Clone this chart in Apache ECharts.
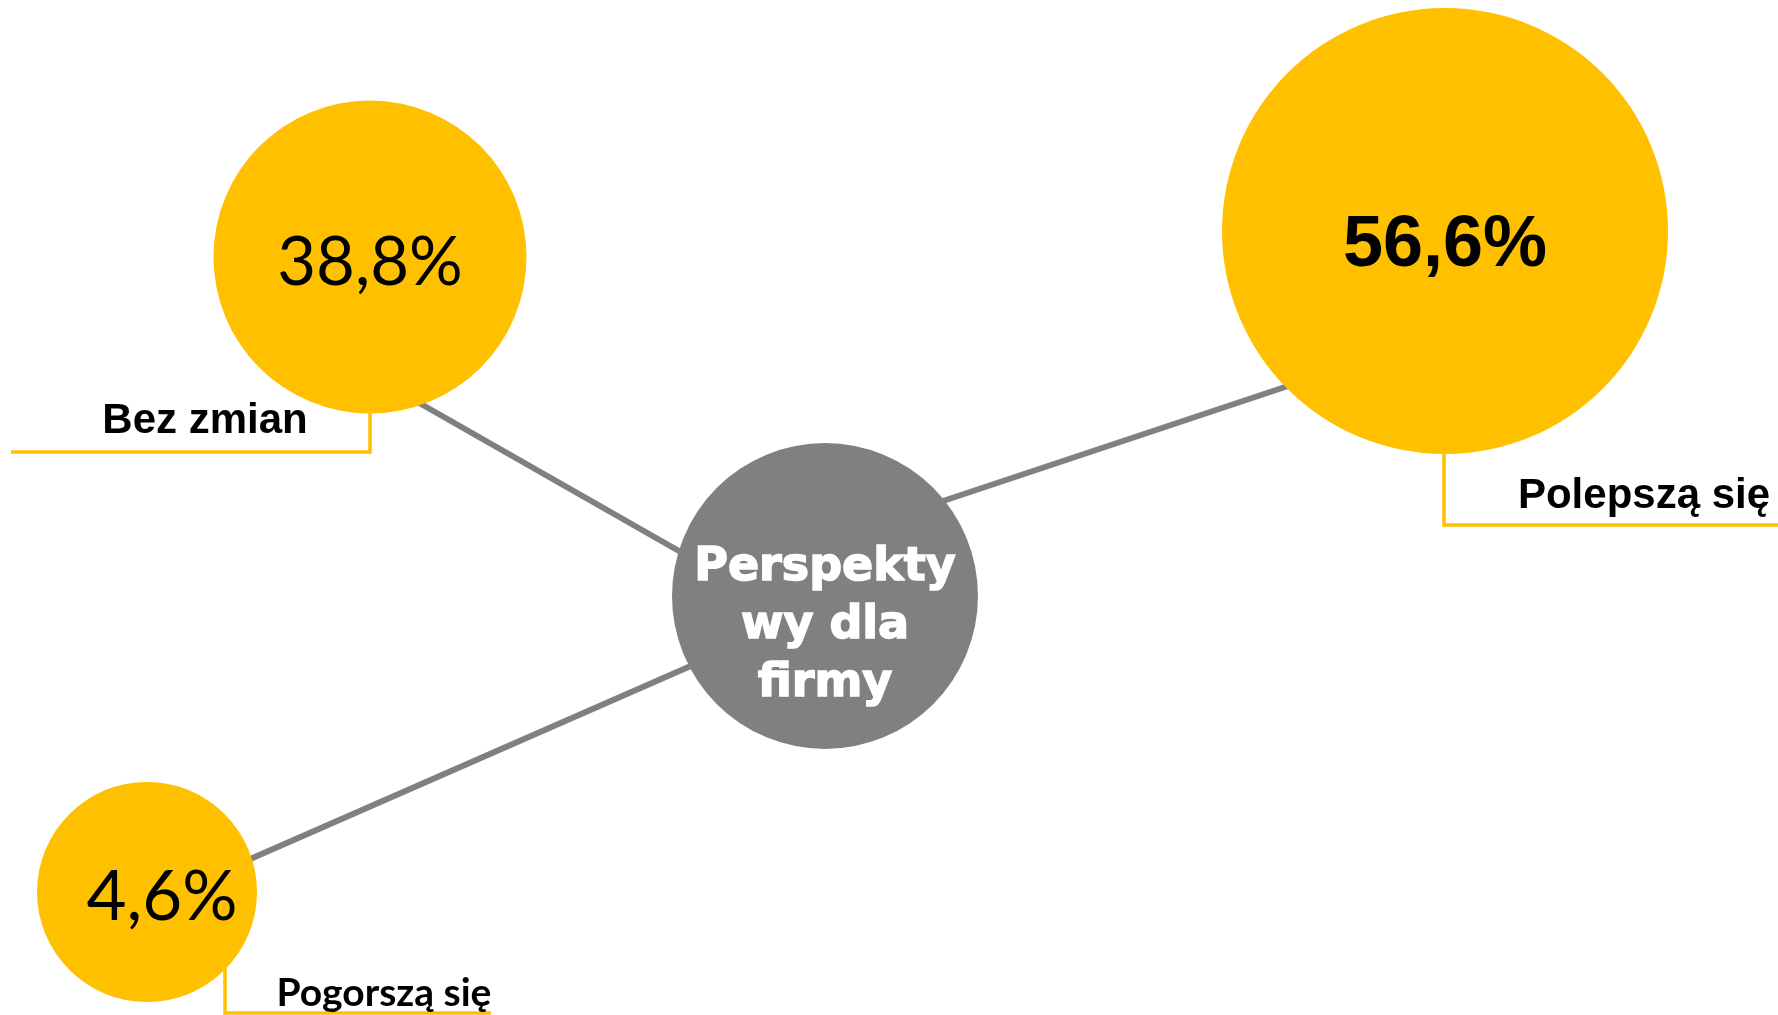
<!DOCTYPE html>
<html>
<head>
<meta charset="utf-8">
<script src="https://cdn.jsdelivr.net/npm/echarts@6/dist/echarts.min.js"></script>
<style>
	html, body { margin: 0; padding: 0; background: #fff; }
	#chart { width: 1778px; height: 1015px; }
</style>
</head>
<body>
<div id="chart"></div>
<script>
// dane
var centerTitle = 'Perspekty\nwy dla\nfirmy';
var categories = ['Polepszą się', 'Bez zmian', 'Pogorszą się'];
var values = [56.6, 38.8, 4.6];

// uklad (piksele)
var layout = {
	'Polepszą się': { pos: [1445, 231], size: 446, label: [1644, 496], labelFont: 'Liberation Sans', labelSize: 42, valueFont: 'Liberation Sans', valueWeight: 'bold', valueSize: 72,
		connector: [[925, 507], [1306, 380]], bracket: [[1444, 430], [1444, 525], [1778, 525]] },
	'Bez zmian': { pos: [370, 257], size: 313, label: [205, 421], labelFont: 'Liberation Sans', labelSize: 42, valueFont: 'Lato', valueWeight: 'normal', valueSize: 67,
		connector: [[400, 392], [700, 563]], bracket: [[370, 400], [370, 452], [11, 452]] },
	'Pogorszą się': { pos: [147, 892], size: 220, label: [384, 993], labelFont: 'Lato', labelSize: 39, valueFont: 'Lato', valueWeight: 'normal', valueSize: 69,
		connector: [[232, 867], [709, 658]], bracket: [[225, 950], [225, 1013], [491, 1013]] }
};
var centerPos = [825, 596];
var centerSize = 306;

var yellow = '#FFC000';
var grey = '#808080';

var fmt = function(v) {
	return v.toFixed(1).replace('.', ',') + '%';
};

var bubbles = categories.map(function(c, i) {
	var l = layout[c];
	return {
		name: c,
		value: [l.pos[0], l.pos[1], values[i]],
		symbolSize: l.size,
		label: {
			color: '#000',
			fontFamily: l.valueFont,
			fontWeight: l.valueWeight,
			fontSize: l.valueSize,
			offset: [c == 'Pogorszą się' ? 15 : 0, c == 'Polepszą się' ? 15 : 6]
		}
	};
});
bubbles.push({
	name: centerTitle,
	value: [centerPos[0], centerPos[1], null],
	symbolSize: centerSize,
	itemStyle: { color: grey },
	label: {
		formatter: centerTitle,
		color: '#fff',
		fontFamily: 'DejaVu Sans',
		fontWeight: 'bold',
		fontSize: 46,
		lineHeight: 58,
		textBorderColor: '#fff',
		textBorderWidth: 1.5,
		offset: [0, 30]
	}
});

var catLabels = categories.map(function(c) {
	var l = layout[c];
	return {
		name: c,
		value: [l.label[0], l.label[1]],
		label: {
			color: '#000',
			fontFamily: l.labelFont,
			fontSize: l.labelSize
		}
	};
});

var connectors = categories.map(function(c) {
	return { coords: layout[c].connector };
});
var brackets = categories.map(function(c) {
	return { coords: layout[c].bracket };
});

var myChart = echarts.init(document.getElementById('chart'));
var option = {
	backgroundColor: '#fff',
	animation: false,
	grid: { left: 0, right: 0, top: 0, bottom: 0 },
	xAxis: { type: 'value', min: 0, max: 1778, show: false },
	yAxis: { type: 'value', min: 0, max: 1015, inverse: true, show: false },
	series: [
		{
			type: 'lines',
			coordinateSystem: 'cartesian2d',
			z: 1,
			lineStyle: { color: grey, width: 6, opacity: 1 },
			data: connectors
		},
		{
			type: 'lines',
			coordinateSystem: 'cartesian2d',
			polyline: true,
			z: 1,
			lineStyle: { color: yellow, width: 3.5, opacity: 1 },
			data: brackets
		},
		{
			type: 'scatter',
			z: 2,
			symbol: 'circle',
			itemStyle: { color: yellow, opacity: 1 },
			label: {
				show: true,
				position: 'inside',
				color: '#000',
				formatter: function(p) { return fmt(p.value[2]); }
			},
			emphasis: { disabled: true },
			data: bubbles
		},
		{
			type: 'scatter',
			z: 3,
			symbolSize: 0,
			itemStyle: { opacity: 1 },
			label: {
				show: true,
				position: 'inside',
				color: '#000',
				fontWeight: 'bold',
				formatter: '{b}'
			},
			emphasis: { disabled: true },
			data: catLabels
		}
	]
};
myChart.setOption(option);
</script>
</body>
</html>
